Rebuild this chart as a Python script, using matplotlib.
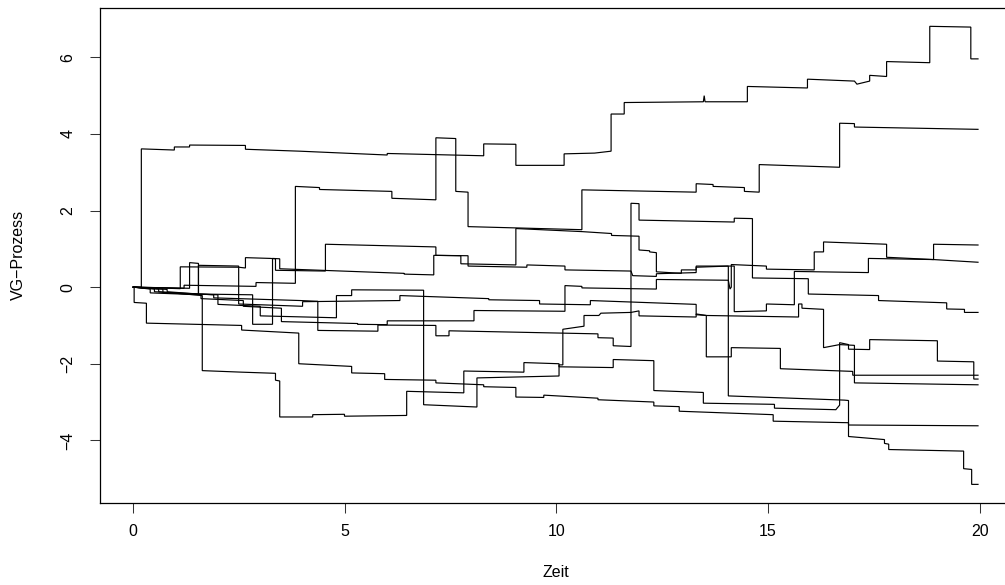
import numpy as np
import matplotlib.pyplot as plt

# 10 VG-Pfade (Zeit, Wert)
t1 = [0, 0.19, 0.19, 0.97, 0.97, 1.33, 1.33, 2.65, 2.65, 3.93, 6.00, 6.00, 8.28, 8.28, 9.04, 9.04, 10.18, 10.18, 10.90, 11.29,
      11.29, 11.60, 11.60, 13.47, 13.49, 13.51, 14.51, 14.51, 15.93, 15.93, 17.04, 17.10, 17.40, 17.40, 17.80, 17.80, 18.82, 18.82, 19.79, 19.79, 19.96]
v1 = [0, 0, 3.61, 3.58, 3.66, 3.66, 3.71, 3.70, 3.60, 3.55, 3.45, 3.49, 3.43, 3.74, 3.73, 3.18, 3.18, 3.48, 3.50, 3.55,
      4.52, 4.52, 4.82, 4.84, 5.00, 4.84, 4.84, 5.24, 5.20, 5.43, 5.38, 5.30, 5.38, 5.53, 5.50, 5.89, 5.86, 6.81, 6.79, 5.96, 5.96]

t2 = [0, 1.2, 1.2, 2.9, 2.9, 3.83, 3.83, 4.40, 4.40, 6.11, 6.11, 7.15, 7.15, 7.62, 7.62, 7.91, 7.91, 10.60, 10.60, 13.30,
      13.30, 13.70, 13.70, 14.44, 14.44, 14.79, 14.79, 16.69, 16.69, 17.04, 17.04, 19.96]
v2 = [0, -0.03, 0.05, 0.02, 0.12, 0.10, 2.63, 2.60, 2.55, 2.50, 2.32, 2.28, 3.90, 3.88, 2.50, 2.48, 1.58, 1.50, 2.54, 2.48,
      2.70, 2.68, 2.63, 2.60, 2.50, 2.48, 3.20, 3.13, 4.28, 4.27, 4.18, 4.12]

t3 = [0, 1.11, 1.11, 2.49, 2.65, 2.65, 3.24, 3.36, 3.36, 4.54, 4.54, 7.15, 7.15, 7.74, 7.74, 9.04, 9.04, 10.60, 11.30, 11.30,
      11.95, 11.95, 12.20, 12.20, 12.36, 12.36, 12.95, 12.95, 13.30, 13.30, 14.06, 14.06, 16.80, 16.90, 16.90, 17.75, 17.75, 17.85, 17.85, 19.57,
      19.62, 19.62, 19.81, 19.81, 19.96]
v3 = [0, -0.04, 0.53, 0.52, 0.50, 0.77, 0.75, 0.74, 0.44, 0.42, 1.12, 1.05, 0.83, 0.82, 0.61, 0.58, 1.53, 1.45, 1.40, 1.35,
      1.33, 0.97, 0.95, 0.92, 0.90, 0.40, 0.36, 0.45, 0.45, 0.52, 0.55, -2.84, -2.95, -2.96, -3.90, -3.98, -4.08, -4.10, -4.24, -4.28,
      -4.28, -4.74, -4.76, -5.15, -5.15]

t4 = [0, 1.33, 1.33, 1.54, 1.54, 2.82, 2.82, 3.29, 3.29, 3.46, 3.46, 6.40, 6.40, 7.10, 7.10, 7.91, 7.91, 9.30, 9.30, 10.20,
      10.20, 11.76, 11.80, 12.36, 12.36, 13.30, 13.30, 14.20, 14.20, 14.96, 14.96, 15.62, 15.62, 17.37, 17.37, 18.91, 18.91, 19.96]
v4 = [0, -0.03, 0.64, 0.62, -0.18, -0.20, -0.97, -0.97, 0.75, 0.74, 0.48, 0.36, 0.34, 0.32, 0.83, 0.82, 0.55, 0.52, 0.58, 0.55,
      0.45, 0.42, 0.30, 0.28, 0.35, 0.38, 0.55, 0.55, -0.64, -0.62, -0.44, -0.46, 0.41, 0.38, 0.75, 0.72, 1.12, 1.10]

t5 = [0, 0.5, 0.5, 1.9, 1.9, 3.95, 4.36, 4.36, 5.78, 5.78, 7.15, 7.15, 7.46, 7.46, 10.98, 10.98, 11.34, 11.34, 11.76, 11.76,
      11.95, 11.95, 14.20, 14.20, 14.63, 14.63, 15.95, 15.95, 17.61, 17.61, 19.22, 19.22, 19.64, 19.64, 19.96]
v5 = [0, -0.05, -0.12, -0.20, -0.28, -0.35, -0.37, -1.13, -1.15, -0.99, -1.00, -1.27, -1.27, -1.14, -1.22, -1.32, -1.33, -1.53, -1.55, 2.19,
      2.18, 1.75, 1.70, 1.80, 1.79, 0.24, 0.22, -0.18, -0.22, -0.35, -0.41, -0.57, -0.58, -0.66, -0.66]

t6 = [0, 0.02, 0.02, 0.31, 0.31, 2.56, 2.56, 3.91, 3.91, 5.16, 5.16, 5.94, 5.94, 7.15, 7.15, 8.28, 8.28, 9.04, 9.04, 9.70,
      9.70, 10.98, 10.98, 12.30, 12.30, 12.90, 12.90, 15.12, 15.12, 16.90, 16.90, 19.96]
v6 = [0, 0, -0.40, -0.42, -0.94, -1.00, -1.12, -1.20, -2.00, -2.07, -2.24, -2.26, -2.41, -2.43, -2.50, -2.55, -2.60, -2.62, -2.87, -2.88,
      -2.82, -2.90, -2.94, -3.00, -3.10, -3.12, -3.24, -3.33, -3.50, -3.54, -3.60, -3.62]

t7 = [0, 0.6, 0.6, 1.63, 1.63, 2.56, 3.36, 3.36, 3.46, 3.46, 4.24, 4.24, 4.99, 4.99, 6.46, 6.46, 7.81, 7.81, 9.23, 9.23,
      10.06, 10.06, 11.34, 11.34, 12.30, 12.30, 13.47, 13.47, 15.15, 15.15, 16.60, 16.69, 16.69, 16.90, 16.90, 17.40, 17.40, 19.00, 19.00, 19.86,
      19.86, 19.96]
v7 = [0, -0.05, -0.12, -0.22, -2.18, -2.22, -2.25, -2.43, -2.45, -3.39, -3.39, -3.33, -3.32, -3.37, -3.35, -2.72, -2.76, -2.19, -2.22, -1.97,
      -2.00, -2.08, -2.10, -1.89, -1.92, -2.70, -2.75, -3.03, -3.06, -3.16, -3.20, -3.08, -1.45, -1.50, -1.62, -1.63, -1.37, -1.40, -1.93, -1.95,
      -2.40, -2.40]

t8 = [0, 0.7, 0.7, 2.0, 2.0, 3.0, 3.0, 4.80, 4.80, 5.16, 5.16, 6.86, 6.86, 8.12, 8.12, 10.06, 10.06, 10.15, 10.15, 10.65,
      10.65, 11.00, 11.05, 11.76, 11.95, 11.95, 13.30, 13.30, 13.54, 15.72, 15.72, 15.80, 15.80, 16.31, 16.31, 16.69, 17.04, 17.04, 19.96]
v8 = [0, -0.05, -0.15, -0.20, -0.45, -0.50, -0.75, -0.80, -0.22, -0.22, -0.07, -0.08, -3.07, -3.13, -2.37, -2.32, -2.03, -2.03, -1.10, -1.02,
      -0.74, -0.74, -0.68, -0.66, -0.62, -0.75, -0.78, -0.70, -0.74, -0.78, -0.44, -0.44, -0.55, -0.58, -1.58, -1.50, -1.52, -2.50, -2.55]

t9 = [0, 0.8, 0.8, 1.54, 1.54, 2.49, 2.49, 4.00, 4.00, 6.30, 6.30, 8.40, 8.40, 9.60, 9.60, 10.80, 10.80, 13.30, 13.30, 13.54,
      13.54, 14.13, 14.13, 15.29, 15.29, 17.00, 17.00, 19.96]
v9 = [0, -0.06, -0.12, -0.18, 0.57, 0.55, -0.44, -0.50, -0.38, -0.35, -0.22, -0.30, -0.33, -0.35, -0.44, -0.46, -0.35, -0.45, -0.72, -0.74,
      -1.82, -1.82, -1.58, -1.60, -2.13, -2.20, -2.30, -2.30]

t10 = [0, 0.4, 0.4, 1.6, 1.6, 2.6, 2.6, 3.5, 3.5, 5.3, 5.3, 6.0, 6.0, 8.05, 8.05, 10.20, 10.20, 10.60, 10.60, 12.36,
       12.36, 14.06, 14.10, 14.13, 14.13, 14.96, 14.96, 16.09, 16.09, 16.31, 16.31, 17.80, 17.80, 18.91, 19.96]
v10 = [0, -0.05, -0.15, -0.20, -0.30, -0.35, -0.50, -0.55, -0.90, -0.95, -0.97, -0.98, -0.88, -0.88, -0.61, -0.63, 0.04, 0.02, -0.02, -0.05,
       0.20, 0.18, -0.05, 0.00, 0.59, 0.55, 0.47, 0.45, 0.92, 0.92, 1.18, 1.12, 0.78, 0.72, 0.65]

zeiten = [t1, t2, t3, t4, t5, t6, t7, t8, t9, t10]
werte = [v1, v2, v3, v4, v5, v6, v7, v8, v9, v10]

x_ticks = [0, 5, 10, 15, 20]
y_ticks = [-4, -2, 0, 2, 4, 6]

plt.rcParams['font.family'] = ['Liberation Sans', 'DejaVu Sans']

fig = plt.figure(figsize=(10.05, 5.85), dpi=100)
# plot region like R's default margins (right edge runs past the crop)
ax = fig.add_axes([99.5 / 1005, 82.3 / 585, 912.3 / 1005, 494.7 / 585])

for t, v in zip(zeiten, werte):
    ax.plot(t, v, color='black', lw=0.85, solid_joinstyle='miter')

# R-style 4% axis extension
xmax = max(max(t) for t in zeiten)
ylo = min(min(v) for v in werte)
yhi = max(max(v) for v in werte)
ax.set_xlim(-0.04 * xmax, 1.04 * xmax)
ax.set_ylim(ylo - 0.04 * (yhi - ylo), yhi + 0.04 * (yhi - ylo))

ax.set_xticks(x_ticks)
ax.set_yticks(y_ticks)
ax.set_xticklabels([str(x) for x in x_ticks])
ax.set_yticklabels(['\u2212' + str(-y) if y < 0 else str(y) for y in y_ticks])
ax.tick_params(axis='both', direction='out', length=7.5, width=0.75, labelsize=11.5, color='#333333')
ax.tick_params(axis='x', pad=8)
ax.tick_params(axis='y', pad=10)
for lab in ax.get_yticklabels():
    lab.set_rotation(90)
    lab.set_va('center')

for s in ax.spines.values():
    s.set_linewidth(0.9)
    s.set_color('black')

ax.set_xlabel('Zeit', fontsize=11.5)
ax.set_ylabel('VG\u2212Prozess', fontsize=11.5)
ax.xaxis.set_label_coords(0.5, -0.142)
ax.xaxis.label.set_va('center')
ax.yaxis.set_label_coords(-0.0893, 0.5)
ax.yaxis.label.set_va('center')

fig.savefig('out.png', dpi=100)
